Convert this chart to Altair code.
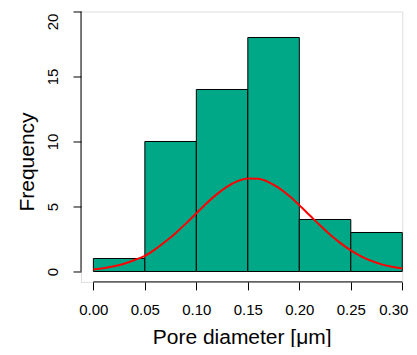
import altair as alt
import pandas as pd

# Histogram bins and counts
bin_start = [0.00, 0.05, 0.10, 0.15, 0.20, 0.25]
bin_end = [0.05, 0.10, 0.15, 0.20, 0.25, 0.30]
counts = [1, 10, 14, 18, 4, 3]

# Fitted normal curve
curve_x = [0.00, 0.01, 0.02, 0.03, 0.04, 0.05, 0.06, 0.07, 0.08, 0.09, 0.10,
           0.11, 0.12, 0.13, 0.14, 0.15, 0.16, 0.17, 0.18, 0.19, 0.20,
           0.21, 0.22, 0.23, 0.24, 0.25, 0.26, 0.27, 0.28, 0.29, 0.30]
curve_y = [0.16, 0.25, 0.40, 0.60, 0.88, 1.20, 1.70, 2.30, 2.97, 3.70, 4.48,
           5.25, 5.95, 6.53, 6.95, 7.15, 7.13, 6.88, 6.43, 5.82, 5.10,
           4.33, 3.55, 2.83, 2.18, 1.62, 1.17, 0.82, 0.55, 0.36, 0.23]

x_ticks = [0.00, 0.05, 0.10, 0.15, 0.20, 0.25, 0.30]
y_ticks = [0, 5, 10, 15, 20]
x_domain = [-0.012, 0.30]
y_domain = [-0.8, 20]

FONT = "Liberation Sans"
FILL = "#00A887"

bars_df = pd.DataFrame({"start": bin_start, "end": bin_end, "count": counts})
curve_df = pd.DataFrame({"x": curve_x, "y": curve_y})
xaxis_df = pd.DataFrame({"x": [x_ticks[0]], "x2": [x_ticks[-1]], "y": [y_domain[0]]})
yaxis_df = pd.DataFrame({"y": [y_ticks[0]], "y2": [y_ticks[-1]], "x": [x_domain[0]]})

xscale = alt.Scale(domain=x_domain, nice=False, zero=False)
yscale = alt.Scale(domain=y_domain, nice=False, zero=False)

x_axis = alt.Axis(
    values=x_ticks, format=".2f", domain=False, grid=False,
    tickSize=8, tickColor="black", labelColor="black",
    labelFontSize=15, labelFont=FONT, labelPadding=13,
    labelOffset={"condition": {"test": "datum.value >= 0.299", "value": -9}, "value": 0},
    title="Pore diameter [μm]", titleFont=FONT, titleFontSize=21,
    titleFontWeight="normal", titleColor="black",
    titleBaseline="alphabetic", titleY=61.4, labelFlush=False,
)
y_axis = alt.Axis(
    values=y_ticks, domain=False, grid=False,
    tickSize=8, tickColor="black", labelColor="black",
    labelFontSize=15, labelFont=FONT, labelPadding=16,
    labelAngle=270, labelAlign="center", labelBaseline="alphabetic",
    labelOffset={"condition": {"test": "datum.value == 20", "value": 10}, "value": 0},
    title="Frequency", titleFont=FONT, titleFontSize=21,
    titleFontWeight="normal", titleColor="black", titleAngle=270,
    titleAlign="center", titleBaseline="alphabetic", titleX=-47.7, titleY=150,
)

bars = alt.Chart(bars_df).mark_rect(
    fill=FILL, stroke="black", strokeWidth=1
).encode(
    x=alt.X("start:Q", scale=xscale, axis=x_axis),
    x2="end:Q",
    y=alt.Y("zero:Q", scale=yscale, axis=y_axis),
    y2="count:Q",
).transform_calculate(zero="0")

curve = alt.Chart(curve_df).mark_line(
    color="#FF0000", strokeWidth=2, interpolate="monotone"
).encode(
    x=alt.X("x:Q", scale=xscale),
    y=alt.Y("y:Q", scale=yscale),
)

xaxis_line = alt.Chart(xaxis_df).mark_rule(color="black", strokeWidth=1).encode(
    x=alt.X("x:Q", scale=xscale), x2="x2:Q", y=alt.Y("y:Q", scale=yscale)
)
yaxis_line = alt.Chart(yaxis_df).mark_rule(color="black", strokeWidth=1).encode(
    y=alt.Y("y:Q", scale=yscale), y2="y2:Q", x=alt.X("x:Q", scale=xscale)
)

chart = alt.layer(bars, curve, xaxis_line, yaxis_line).properties(
    width=321.3, height=270.4,
    autosize=alt.AutoSizeParams(type="none"),
    padding={"left": 73, "top": 3.5, "right": 6.7, "bottom": 65},
).configure_view(stroke=None).configure(background="white")

chart.save("out.html", embed_options={"renderer": "svg", "actions": False})
